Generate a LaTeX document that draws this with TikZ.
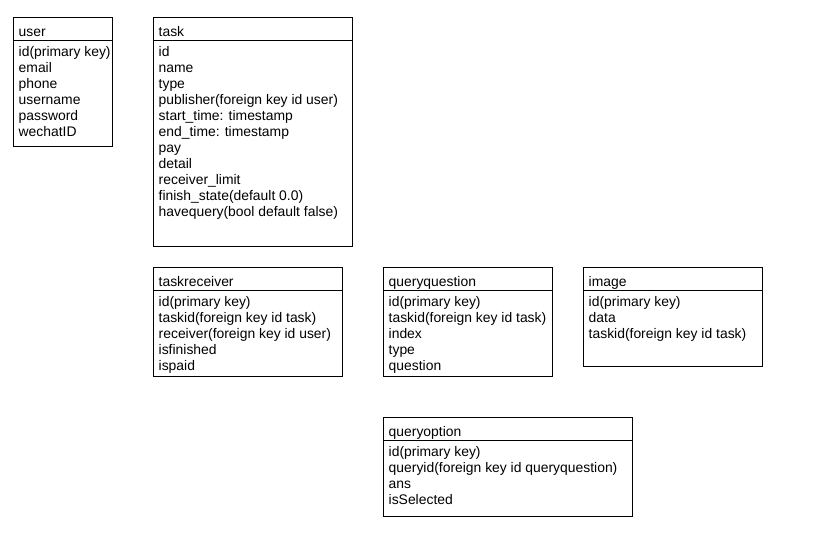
\documentclass[tikz,border=0pt]{standalone}
\usepackage{fontspec}
\setmainfont{Liberation Sans}
\newcommand\ertable[7]{%
  \node[tbl, minimum width=#4pt, minimum height=#5pt] (#1) at (#2,#3) {};
  \draw[tline] ([yshift=-23pt]#1.north west) -- ([yshift=-23pt]#1.north east);
  \node[txt] (#1-title) at ({#2+5},{#3+18.5}) {#6};
  \foreach \t [count=\i] in {#7} {
    \node[txt] (#1-r\i) at ({#2+5},{#3+23+16*\i}) {\t};
  }
}
\begin{document}
\begin{tikzpicture}[x=1pt,y=-1pt,
  tline/.style={line width=1pt},
  tbl/.style={draw, line width=1pt, anchor=north west, inner sep=0pt, outer sep=0pt},
  txt/.style={anchor=base west, inner sep=0pt, font=\fontsize{13.9}{15}\selectfont}]
\useasboundingbox (0,0) rectangle (824,557);
\ertable{user}{13.5}{17.5}{99}{129}{user}{id(primary key),email,phone,username,password,wechatID}
\ertable{task}{153.5}{17.5}{199}{229}{task}{id,name,type,publisher(foreign key id user),start\_time: timestamp,end\_time: timestamp,pay,detail,receiver\_limit,finish\_state(default 0.0),havequery(bool default false)}
\ertable{taskreceiver}{153.5}{267.5}{189}{109}{taskreceiver}{id(primary key),taskid(foreign key id task),receiver(foreign key id user),isfinished,ispaid}
\ertable{queryquestion}{383.5}{267.5}{169}{109}{queryquestion}{id(primary key),taskid(foreign key id task),index,type,question}
\ertable{image}{583.5}{267.5}{179}{99}{image}{id(primary key),data,taskid(foreign key id task)}
\ertable{queryoption}{383.5}{417.5}{249}{99}{queryoption}{id(primary key),queryid(foreign key id queryquestion),ans,isSelected}
\end{tikzpicture}
\end{document}
